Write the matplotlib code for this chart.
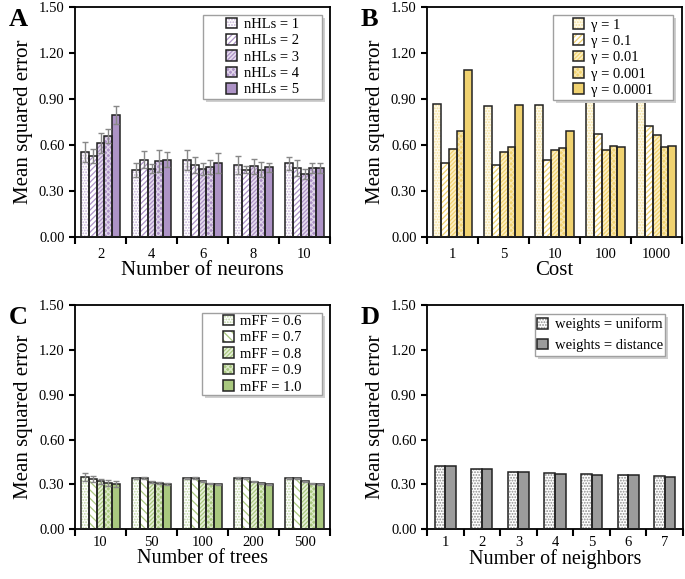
import matplotlib
matplotlib.use("Agg")
import matplotlib.pyplot as plt
import matplotlib.transforms as mtransforms
import numpy as np
from matplotlib.patches import Patch, Rectangle
from matplotlib.legend_handler import HandlerTuple

plt.rcParams.update({
    "font.family": "Liberation Serif",
    "font.size": 10,
    "hatch.linewidth": 0.9,
})

# --- data ---
neurons = ["2", "4", "6", "8", "10"]
nhl_labels = ["nHLs = 1", "nHLs = 2", "nHLs = 3", "nHLs = 4", "nHLs = 5"]
mse_a = [
    [0.555, 0.435, 0.500, 0.470, 0.480],
    [0.530, 0.505, 0.470, 0.440, 0.450],
    [0.610, 0.445, 0.445, 0.460, 0.410],
    [0.660, 0.495, 0.455, 0.440, 0.450],
    [0.795, 0.505, 0.485, 0.455, 0.450],
]
err_a = [
    [0.065, 0.045, 0.065, 0.060, 0.040],
    [0.045, 0.055, 0.050, 0.020, 0.050],
    [0.065, 0.030, 0.040, 0.050, 0.035],
    [0.045, 0.070, 0.045, 0.050, 0.030],
    [0.060, 0.050, 0.065, 0.030, 0.035],
]

costs = ["1", "5", "10", "100", "1000"]
gamma_labels = ["γ = 1", "γ = 0.1", "γ = 0.01", "γ = 0.001", "γ = 0.0001"]
mse_b = [
    [0.870, 0.855, 0.860, 0.880, 0.930],
    [0.485, 0.470, 0.505, 0.670, 0.725],
    [0.575, 0.555, 0.565, 0.570, 0.665],
    [0.690, 0.585, 0.580, 0.595, 0.585],
    [1.090, 0.860, 0.690, 0.585, 0.595],
]

trees = ["10", "50", "100", "200", "500"]
mff_labels = ["mFF = 0.6", "mFF = 0.7", "mFF = 0.8", "mFF = 0.9", "mFF = 1.0"]
mse_c = [
    [0.350, 0.340, 0.340, 0.342, 0.340],
    [0.335, 0.342, 0.340, 0.340, 0.340],
    [0.320, 0.315, 0.320, 0.318, 0.320],
    [0.310, 0.310, 0.305, 0.308, 0.305],
    [0.305, 0.302, 0.302, 0.302, 0.302],
]
err_c = [
    [0.025, 0.005, 0.005, 0.004, 0.003],
    [0.020, 0.006, 0.006, 0.004, 0.003],
    [0.015, 0.006, 0.004, 0.003, 0.003],
    [0.020, 0.005, 0.004, 0.003, 0.003],
    [0.020, 0.004, 0.003, 0.003, 0.003],
]

neighbors = ["1", "2", "3", "4", "5", "6", "7"]
weight_labels = ["weights = uniform", "weights = distance"]
mse_d = [
    [0.425, 0.400, 0.380, 0.375, 0.370, 0.365, 0.355],
    [0.425, 0.400, 0.380, 0.372, 0.362, 0.362, 0.352],
]

# --- styles: (face, hatch colour, hatch) ---
purple = "#ad93c6"
yellow = "#f0d270"
green = "#a9c87f"
styles_a = [
    ("white", "#c4b0d6", "......"),
    ("white", purple, "//////"),
    ("#e6dcef", purple, "////////"),
    (purple, "#e0d5ea", "xxxxxx"),
    (purple, purple, None),
]
styles_b = [
    ("#fffbea", "#f3df9c", "......"),
    ("white", yellow, "//////"),
    ("#fbefc4", yellow, "////////"),
    (yellow, "#f8e7b0", "xxxxxx"),
    (yellow, yellow, None),
]
styles_c = [
    ("white", "#bcd5a0", "......"),
    ("white", green, "\\\\\\\\"),
    ("#e6f0d9", green, "////////"),
    (green, "#dbe9c8", "xxxxxx"),
    (green, green, None),
]
styles_d = [
    ("white", "#8c8c8c", "......"),
    ("#9c9c9c", "#9c9c9c", None),
]


def draw_panel(ax, cats, values, styles, labels, box, errors=None,
               fill=0.78, spacing=0.2, tickpad=8):
    n = len(values)
    x = np.arange(len(cats))
    w = fill / n
    handles = []
    for i, (vals, (fc, hc, h)) in enumerate(zip(values, styles)):
        pos = x - fill / 2 + w * (i + 0.5)
        ax.bar(pos, vals, w, color=fc, edgecolor=hc, hatch=h, lw=0,
               zorder=2)
        ax.bar(pos, vals, w, fill=False, edgecolor="#222222", lw=1.1,
               zorder=3)
        if errors is not None:
            ax.errorbar(pos, vals, yerr=errors[i], ls="", ecolor="#888888",
                        elinewidth=1, capsize=2.5, capthick=1, zorder=4)
        handles.append((Patch(facecolor=fc, edgecolor=hc, hatch=h, lw=0),
                        Patch(fill=False, edgecolor="#222222", lw=1.1)))
    ax.set_xlim(-0.5, len(cats) - 0.5)
    ax.set_ylim(0, 1.5)
    ax.set_yticks(np.arange(0, 1.51, 0.3))
    ax.set_yticklabels([f"{v:.2f}" for v in np.arange(0, 1.51, 0.3)])
    ax.set_xticks(x)
    ax.set_xticklabels(cats)
    ax.set_xticks(np.arange(-0.5, len(cats), 1.0), minor=True)
    ax.tick_params(axis="x", which="major", length=0, pad=tickpad,
                   labelsize=10.5)
    ax.tick_params(axis="x", which="minor", length=5, width=1.5,
                   direction="out")
    ax.tick_params(axis="y", length=4, width=1.5, direction="out",
                   labelsize=10.5)
    for s in ax.spines.values():
        s.set_linewidth(1.3)
    ax.set_ylabel("Mean squared error", fontsize=15)

    # legend frame drawn by hand (Excel style, soft shadow)
    x0, y0, x1, y1 = box
    shadow_tr = mtransforms.offset_copy(ax.transAxes, fig=ax.figure,
                                        x=3, y=-3, units="dots")
    ax.add_patch(Rectangle((x0, y0), x1 - x0, y1 - y0, transform=shadow_tr,
                           facecolor="#cfcfcf", edgecolor="none", zorder=9,
                           clip_on=False))
    ax.add_patch(Rectangle((x0, y0), x1 - x0, y1 - y0,
                           transform=ax.transAxes, facecolor="white",
                           edgecolor="#a0a0a0", lw=1.0, zorder=9.5,
                           clip_on=False))
    leg = ax.legend(handles, labels,
                    handler_map={tuple: HandlerTuple(ndivide=1, pad=0)},
                    loc="center",
                    bbox_to_anchor=((x0 + x1) / 2, (y0 + y1) / 2),
                    fontsize=10.5, frameon=False, handlelength=0.75,
                    handleheight=0.75, handletextpad=0.45,
                    labelspacing=spacing, borderpad=0.0)
    leg.set_zorder(10)


fig = plt.figure(figsize=(6.85, 5.79), dpi=100)
ax_a = fig.add_axes([0.1095, 0.5907, 0.3723, 0.3972])
ax_b = fig.add_axes([0.6234, 0.5907, 0.3723, 0.3972])
ax_c = fig.add_axes([0.1095, 0.0860, 0.3723, 0.3872])
ax_d = fig.add_axes([0.6234, 0.0860, 0.3737, 0.3872])

draw_panel(ax_a, neurons, mse_a, styles_a, nhl_labels,
           (0.502, 0.600, 0.969, 0.965), errors=err_a)
ax_a.set_xlabel("Number of neurons", fontsize=15, labelpad=0)

draw_panel(ax_b, costs, mse_b, styles_b, gamma_labels,
           (0.494, 0.596, 0.965, 0.965))
ax_b.set_xlabel("Cost", fontsize=15, labelpad=0)

draw_panel(ax_c, trees, mse_c, styles_c, mff_labels,
           (0.498, 0.597, 0.969, 0.965), errors=err_c, tickpad=5)
ax_c.set_xlabel("Number of trees", fontsize=14.5, labelpad=0)

draw_panel(ax_d, neighbors, mse_d, styles_d, weight_labels,
           (0.420, 0.772, 0.930, 0.961), fill=0.58, spacing=0.5, tickpad=5)
ax_d.set_xlabel("Number of neighbors", fontsize=14.5, labelpad=0)

for ax, letter in zip([ax_a, ax_b, ax_c, ax_d], "ABCD"):
    ax.text(-0.26, 0.995, letter, transform=ax.transAxes, fontsize=19,
            fontweight="bold", va="top", ha="left")

fig.savefig("out.png", dpi=100)
